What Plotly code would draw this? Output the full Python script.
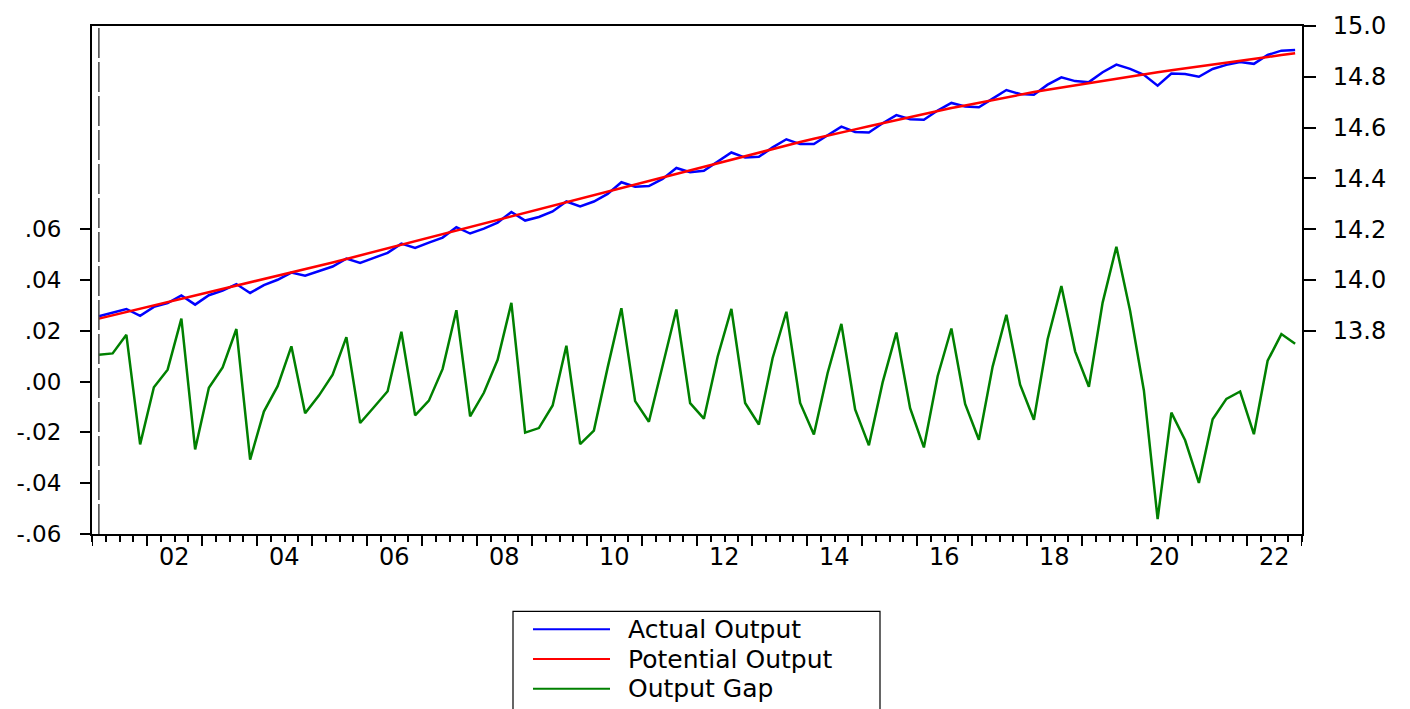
import plotly.graph_objects as go

# Quarterly sample 2001Q1 - 2022Q4
start_year = 2001
n_quarters = 88

actual_output = [
    13.857, 13.870, 13.886, 13.859, 13.894, 13.909, 13.939, 13.903, 13.940, 13.958,
    13.984, 13.949, 13.980, 14.001, 14.029, 14.017, 14.036, 14.053, 14.084, 14.067,
    14.087, 14.107, 14.143, 14.126, 14.147, 14.167, 14.208, 14.183, 14.202, 14.226,
    14.268, 14.234, 14.248, 14.270, 14.309, 14.290, 14.309, 14.339, 14.385, 14.367,
    14.370, 14.398, 14.441, 14.424,
    14.430, 14.467, 14.502, 14.482, 14.485, 14.522, 14.554, 14.535, 14.535, 14.570,
    14.604, 14.583, 14.581, 14.617, 14.649, 14.633, 14.631, 14.667, 14.697, 14.683,
    14.680, 14.714, 14.748, 14.732, 14.729, 14.769, 14.798, 14.783, 14.779, 14.818,
    14.848, 14.831, 14.808, 14.765, 14.813, 14.811, 14.800, 14.831, 14.847, 14.858,
    14.851, 14.886, 14.903, 14.906,
]

potential_output = [
    13.848, 13.861, 13.874, 13.886, 13.899, 13.912, 13.925, 13.938, 13.950, 13.963,
    13.976, 13.989, 14.002, 14.014, 14.027,
    14.041, 14.055, 14.069, 14.083, 14.097, 14.110, 14.124, 14.138, 14.152, 14.166,
    14.180, 14.194, 14.208, 14.221, 14.235, 14.249,
    14.263, 14.277, 14.291, 14.305, 14.319, 14.333, 14.347, 14.361, 14.375, 14.389,
    14.403, 14.417, 14.431,
    14.445, 14.459, 14.473, 14.487, 14.501, 14.515, 14.529, 14.543, 14.556,
    14.569, 14.581, 14.593, 14.605, 14.617, 14.629, 14.642, 14.654, 14.666,
    14.677, 14.687, 14.698, 14.708, 14.719, 14.729, 14.740,
    14.749, 14.758, 14.767, 14.775, 14.784, 14.793, 14.802, 14.811,
    14.818, 14.826, 14.833, 14.841, 14.848, 14.856, 14.863, 14.871, 14.878, 14.886,
    14.893,
]

output_gap = [
    0.0106, 0.0111, 0.0184, -0.0247, -0.0022, 0.0047, 0.0248, -0.0267, -0.0024, 0.0056,
    0.0207, -0.0307, -0.0118, -0.0018, 0.0139, -0.0125, -0.0055, 0.0027, 0.0175, -0.0163,
    -0.0101, -0.0038, 0.0196, -0.0133, -0.0075, 0.0050, 0.0281, -0.0137, -0.0044, 0.0086,
    0.0310, -0.0201, -0.0183, -0.0094, 0.0141, -0.0246, -0.0193, 0.0055, 0.0289, -0.0077,
    -0.0158, 0.0069, 0.0284, -0.0085, -0.0146, 0.0098, 0.0286, -0.0084, -0.0169, 0.0093,
    0.0275, -0.0084, -0.0208, 0.0034, 0.0227, -0.0110, -0.0251, -0.0003, 0.0193, -0.0105,
    -0.0259, 0.0021, 0.0209, -0.0088, -0.0229, 0.0059, 0.0263, -0.0012, -0.0150, 0.0167,
    0.0376, 0.0119, -0.0020, 0.0311, 0.0531, 0.0278, -0.0035, -0.0541, -0.0122, -0.0231,
    -0.0399, -0.0148, -0.0068, -0.0039, -0.0207, 0.0082, 0.0187, 0.0149,
]

left_ticks = [-0.06, -0.04, -0.02, 0.00, 0.02, 0.04, 0.06]
left_labels = ["-.06", "-.04", "-.02", ".00", ".02", ".04", ".06"]
right_ticks = [13.8, 14.0, 14.2, 14.4, 14.6, 14.8, 15.0]
right_labels = ["13.8", "14.0", "14.2", "14.4", "14.6", "14.8", "15.0"]
year_label_years = list(range(2002, 2023, 2))
year_labels = ["%02d" % (y % 100) for y in year_label_years]

legend_names = ["Actual Output", "Potential Output", "Output Gap"]
colors = ["#0000FF", "#FF0000", "#008000"]

x = [start_year + (i + 0.5) / 4.0 for i in range(n_quarters)]

FONT = "DejaVu Sans"

fig = go.Figure()
fig.add_trace(go.Scatter(x=x, y=actual_output, name=legend_names[0], yaxis="y2",
                         mode="lines", line=dict(color=colors[0], width=2.5)))
fig.add_trace(go.Scatter(x=x, y=potential_output, name=legend_names[1], yaxis="y2",
                         mode="lines", line=dict(color=colors[1], width=2.5)))
fig.add_trace(go.Scatter(x=x, y=output_gap, name=legend_names[2], yaxis="y",
                         mode="lines", line=dict(color=colors[2], width=2.5)))

L, R, T, B = 92, 1302, 22, 534
W, H = 1410, 709


def px_to_paper_x(px):
    return (px - L) / (R - L)


def px_to_paper_y(py):
    return (B - py) / (B - T)


shapes = []
# vertical marker line at the first observation
shapes.append(dict(type="line", xref="x", yref="paper", x0=x[0], x1=x[0], y0=0, y1=1,
                   line=dict(color="#444444", width=1.5, dash="30px,4px")))
# long year ticks
for yr in range(2001, 2024):
    shapes.append(dict(type="line", xref="x", yref="paper", x0=yr, x1=yr,
                       y0=0, y1=-12 / (B - T), line=dict(color="black", width=2)))

# legend box (manual, EViews style)
shapes.append(dict(type="rect", xref="paper", yref="paper",
                   x0=px_to_paper_x(513), x1=px_to_paper_x(880),
                   y0=px_to_paper_y(716), y1=px_to_paper_y(612),
                   line=dict(color="black", width=1.2), fillcolor="white", layer="above"))
annotations = []
for k, name in enumerate(legend_names):
    yy = px_to_paper_y(630 + 30 * k)
    shapes.append(dict(type="line", xref="paper", yref="paper",
                       x0=px_to_paper_x(533), x1=px_to_paper_x(610), y0=yy, y1=yy,
                       line=dict(color=colors[k], width=2), layer="above"))
    annotations.append(dict(xref="paper", yref="paper", x=px_to_paper_x(626), y=yy,
                            text=name, showarrow=False, xanchor="left", yanchor="middle",
                            font=dict(family=FONT, size=25, color="black")))

for yr, lab in zip(year_label_years, year_labels):
    annotations.append(dict(xref="x", yref="paper", x=yr + 0.5, y=px_to_paper_y(557),
                            text=lab, showarrow=False, xanchor="center", yanchor="middle",
                            font=dict(family=FONT, size=24, color="black")))

fig.update_layout(
    width=W, height=H,
    margin=dict(l=L, r=W - R, t=T, b=H - B, pad=0),
    paper_bgcolor="white", plot_bgcolor="white",
    showlegend=False,
    font=dict(family=FONT, color="black"),
    shapes=shapes,
    annotations=annotations,
    xaxis=dict(range=[2001, 2023], showgrid=False, zeroline=False,
               showline=True, linecolor="black", linewidth=2, mirror=True,
               tickmode="array", tickvals=list(range(2001, 2024)), ticks="",
               showticklabels=False,
               minor=dict(tickmode="linear", tick0=2001, dtick=0.25, ticks="outside",
                          ticklen=6, tickwidth=1.5, tickcolor="black", showgrid=False)),
    yaxis=dict(range=[-0.06, 0.14], showgrid=False, zeroline=False,
               showline=True, linecolor="black", linewidth=2,
               tickmode="array", tickvals=left_ticks, ticktext=left_labels,
               ticks="outside", ticklen=10, tickwidth=1.5, tickcolor="black",
               ticklabelstandoff=14,
               tickfont=dict(family=FONT, size=23, color="black")),
    yaxis2=dict(range=[13.0, 15.0], overlaying="y", side="right", anchor="x",
                showgrid=False, zeroline=False,
                showline=True, linecolor="black", linewidth=2,
                tickmode="array", tickvals=right_ticks, ticktext=right_labels,
                ticks="outside", ticklen=12, tickwidth=1.5, tickcolor="black",
                ticklabelstandoff=12,
                tickfont=dict(family=FONT, size=24, color="black")),
)

fig.write_html("out.html", config={"displayModeBar": False},
               post_script="document.body.style.margin='0';document.body.style.overflow='hidden';")
